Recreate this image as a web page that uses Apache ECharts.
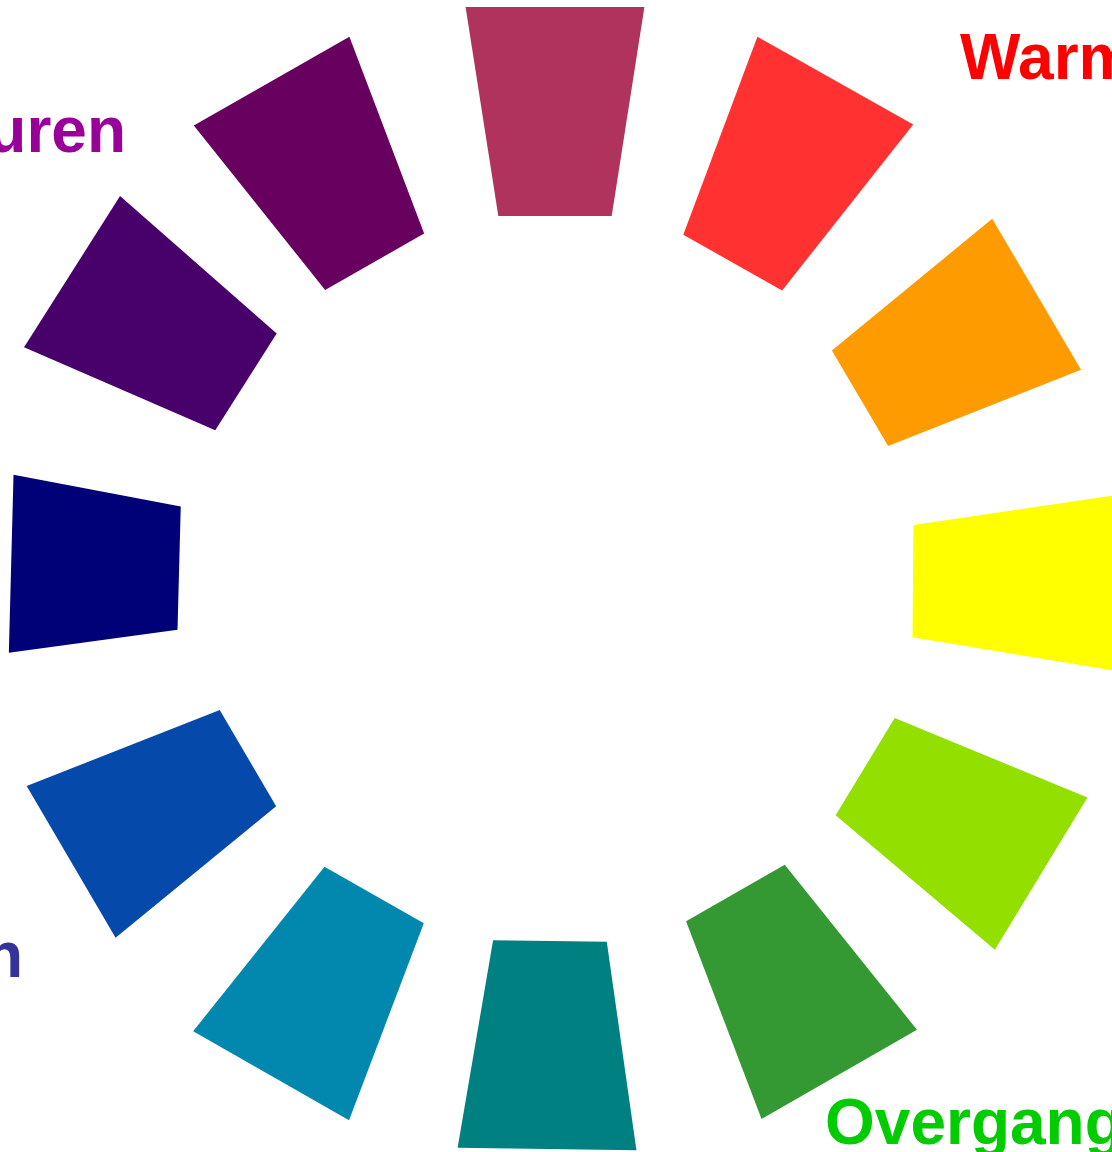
<!DOCTYPE html>
<html>
<head>
<meta charset="utf-8">
<script src="https://cdn.jsdelivr.net/npm/echarts@6/dist/echarts.min.js"></script>
<style>
html,body{margin:0;padding:0;background:#ffffff;overflow:hidden;}
#chart{width:1112px;height:1152px;}
</style>
</head>
<body>
<div id="chart"></div>
<script>
// Segment names (colour wheel, counter-clockwise from the top)
var segmentNames = ['roodpaars','rood','oranje','geel','geelgroen','groen','blauwgroen','cyaanblauw','blauw','donkerblauw','blauwpaars','paars'];
// Centre angle of each segment (degrees, 0 = right, counter-clockwise)
var segmentAngles = [90, 60.6, 30.5, -0.5, -31.3, -60.2, -90.8, -119.7, -149.6, 178.5, 147.6, 119.7];
// Angular span of each segment (degrees)
var segmentSpans = [17.8, 17.8, 17.8, 17.8, 17.8, 17.8, 17.8, 17.8, 17.8, 18.6, 17.8, 17.8];
// Inner and outer radius of each segment (radius-axis values)
var innerRadius = [362, 362, 354, 358, 363, 363, 363, 365, 356, 376, 366, 364];
var outerRadius = [571, 571, 559, 570, 569, 572, 571, 573, 561, 544, 572, 572];
// Group labels
var labelTexts = ['Warme kleuren', 'Overgangskleuren', 'Koude kleuren', 'Overgangskleuren'];

// Styles
var segmentColors = ['#AF335C','#FF3131','#FE9B00','#FFFF00','#93DF00','#359933','#008080','#0287AF','#054AAB','#000077','#48006A','#67005F'];
var labelColors = ['#FF0000','#990099','#333399','#00CC00'];

var chart = echarts.init(document.getElementById('chart'), null, {renderer:'canvas'});

var seriesData = segmentAngles.map(function(a, i){
  return [a, innerRadius[i], outerRadius[i], segmentSpans[i], i];
});

var fontFamily = '"Liberation Sans", Arial, Helvetica, sans-serif';
function label(i, x, y, align){
  return {
    type:'text', x:x, y:y, silent:true,
    style:{text:labelTexts[i], fill:labelColors[i], font:'bold 64px ' + fontFamily, align:align, verticalAlign:'middle'}
  };
}

chart.setOption({
  animation:false,
  backgroundColor:'#ffffff',
  polar:{center:[555,578], radius:600},
  angleAxis:{type:'value', min:0, max:360, startAngle:0, clockwise:false, show:false},
  radiusAxis:{type:'value', min:0, max:600, show:false},
  series:[{
    type:'custom',
    coordinateSystem:'polar',
    encode:{angle:0, radius:1},
    data:seriesData,
    renderItem:function(params, api){
      var a = api.value(0), ri = api.value(1), ro = api.value(2), h = api.value(3)/2, idx = api.value(4);
      var k = 1/Math.cos(h*Math.PI/180);
      var pts = [
        api.coord([ri*k, a - h]),
        api.coord([ro*k, a - h]),
        api.coord([ro*k, a + h]),
        api.coord([ri*k, a + h])
      ];
      return {type:'polygon', shape:{points:pts}, style:{fill:segmentColors[idx], stroke:null}};
    }
  }],
  graphic:[
    label(0, 960, 61, 'left'),
    label(1, 126, 134, 'right'),
    label(2, 23, 959, 'right'),
    label(3, 825, 1126, 'left')
  ]
});
</script>
</body>
</html>
